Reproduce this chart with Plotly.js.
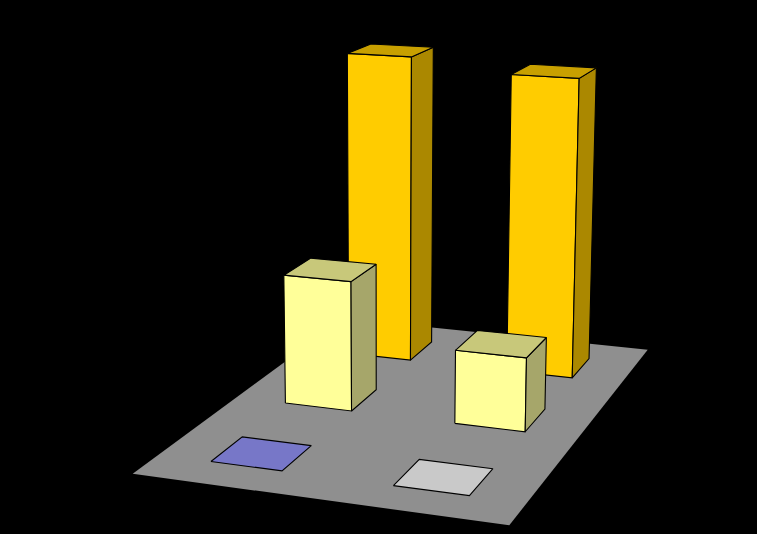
<!DOCTYPE html>
<html><head><meta charset="utf-8">
<script src="https://cdn.plot.ly/plotly-3.0.1.min.js"></script>
<style>html,body{margin:0;background:#000}</style></head>
<body><div id="c" style="width:757px;height:534px"></div>
<script>
// Data: two categories across, three series front to back
const categories = ['A', 'B'];
const seriesFront = [0, 0];
const seriesMiddle = [40.6, 22.7];
const seriesBack = [100.3, 96.5];

// Face colours for each series (top, front, side)
const frontColors = [
  {top:'#7777c8', front:'#9999ff', side:'#6666aa'},
  {top:'#c9c9c9', front:'#ffffff', side:'#aaaaaa'}
];
const middleColors = {top:'#c8c87a', front:'#ffff99', side:'#a6a66a'};
const backColors = {top:'#c8a000', front:'#ffcc00', side:'#ab8800'};
const floorColor = '#8f8f8f';

// Camera: floor plane homography plus a vertical axis term
const cam = {a:342.8,b:304.3,c:132.7,d:16.58,e:-69.35,f:473.8,g:-0.06636,h:0.27028,vx:384,vy:8500,r:-0.000424};
function project(u,v,z){
  const t = cam.r*z;
  const w = cam.g*u + cam.h*v + 1 + t;
  return [(cam.a*u + cam.b*v + cam.c + cam.vx*t)/w, (cam.d*u + cam.e*v + cam.f + cam.vy*t)/w];
}
const traces = [];
function poly(pts, color, lineOn){
  const p = pts.concat([pts[0]]).map(q => project(q[0],q[1],q[2]));
  traces.push({type:'scatter',mode:lineOn?'lines':'none',x:p.map(q=>q[0]),y:p.map(q=>q[1]),
    fill:'toself',fillcolor:color,line:{color:'#000',width:1.1},hoverinfo:'skip',showlegend:false});
}
const nx = categories.length, ny = 3, half = 0.2, colNudge = 0.003;
function bar(i,j,val,col){
  const c=(i+0.5)/nx+i*colNudge;
  const u0=c-half/nx,u1=c+half/nx,v0=(j+0.5-half)/ny,v1=(j+0.5+half)/ny;
  if(val>0){
    poly([[u0,v0,0],[u1,v0,0],[u1,v0,val],[u0,v0,val]],col.front,true);
    poly([[u1,v0,0],[u1,v1,0],[u1,v1,val],[u1,v0,val]],col.side,true);
  }
  poly([[u0,v0,val],[u1,v0,val],[u1,v1,val],[u0,v1,val]],col.top,true);
}
poly([[0,0,0],[1,0,0],[1,1,0],[0,1,0]],floorColor,false);
categories.forEach((c,i)=>bar(i,2,seriesBack[i],backColors));
categories.forEach((c,i)=>bar(i,1,seriesMiddle[i],middleColors));
categories.forEach((c,i)=>bar(i,0,seriesFront[i],frontColors[i]));

const ax = {visible:false,showgrid:false,zeroline:false,fixedrange:true};
Plotly.newPlot('c',traces,{width:757,height:534,paper_bgcolor:'#000',plot_bgcolor:'#000',showlegend:false,
  margin:{l:0,r:0,t:0,b:0},
  xaxis:Object.assign({range:[0,757]},ax),yaxis:Object.assign({range:[534,0]},ax)},{displayModeBar:false,staticPlot:true});
</script></body></html>
